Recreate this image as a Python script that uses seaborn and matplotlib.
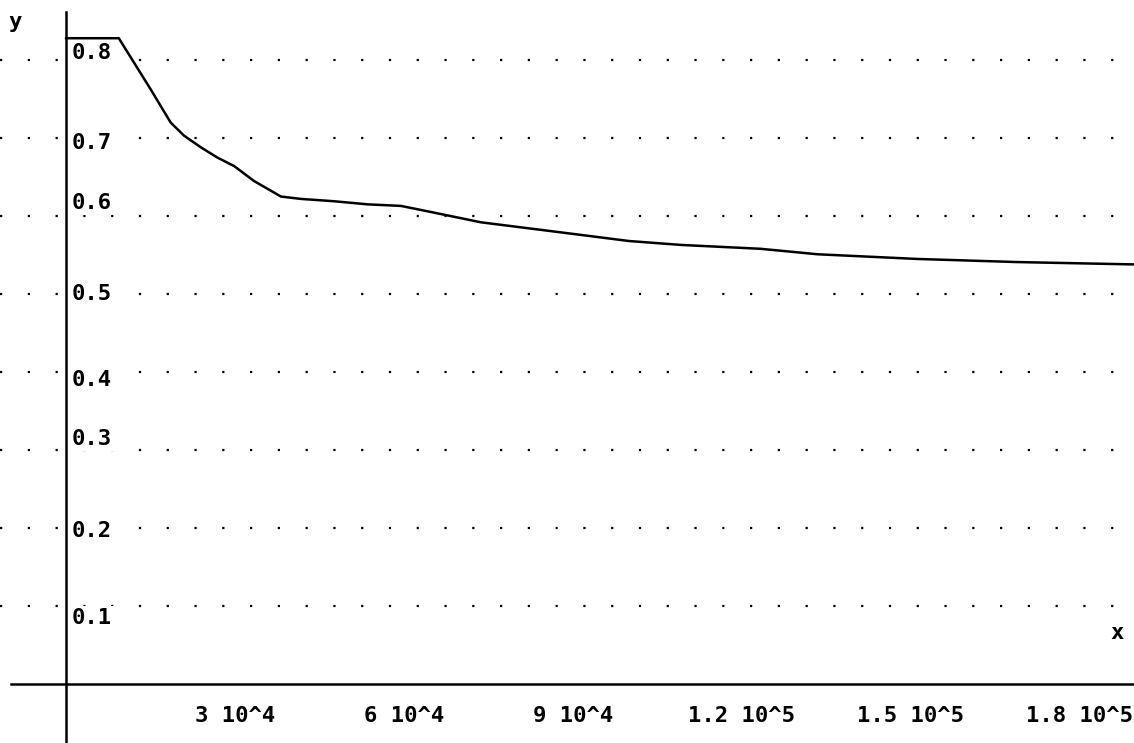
import numpy as np
import pandas as pd
import matplotlib
matplotlib.use("Agg")
import matplotlib.pyplot as plt
from matplotlib.transforms import offset_copy
import seaborn as sns

# ------------------------------
# data
# ------------------------------
x_vals = [0, 9400, 15100, 18600, 21000, 24000, 26900, 29900, 33400,
          38200, 41700, 47600, 53600, 59500, 64300, 73700, 88000, 100000,
          109200, 123400, 133500, 151200, 169000, 189700]
y_vals = [0.828, 0.828, 0.762, 0.720, 0.703, 0.688, 0.675, 0.664, 0.645,
          0.625, 0.622, 0.619, 0.615, 0.613, 0.606, 0.592, 0.579, 0.568,
          0.563, 0.558, 0.551, 0.545, 0.541, 0.538]

y_ticks = [0.1, 0.2, 0.3, 0.4, 0.5, 0.6, 0.7, 0.8]
y_tick_labels = ["0.1", "0.2", "0.3", "0.4", "0.5", "0.6", "0.7", "0.8"]
x_ticks = [30000, 60000, 90000, 120000, 150000, 180000]
x_tick_labels = ["3 10^4", "6 10^4", "9 10^4", "1.2 10^5", "1.5 10^5", "1.8 10^5"]

df = pd.DataFrame({"x": x_vals, "y": y_vals})

# ------------------------------
# figure setup
# ------------------------------
sns.set_style("white")
plt.rcParams["font.family"] = ["DejaVu Sans Mono"]
mono = dict(family="DejaVu Sans Mono", weight="bold", size=16, color="black")

fig = plt.figure(figsize=(11.34, 7.43), dpi=100)
ax = fig.add_axes([0, 0, 1, 1])
ax.set_xlim(-11700, 189700)
ax.set_ylim(-0.0756, 0.877)

# dotted grid rows (dots every ~28 px)
for yv in y_ticks:
    ax.axhline(yv, color="black", lw=1.6, ls=(0, (1, 11.5)), zorder=1)

sns.lineplot(data=df, x="x", y="y", ax=ax, color="black", lw=1.8, zorder=3)

# axes through the origin
for side in ["top", "right"]:
    ax.spines[side].set_visible(False)
ax.spines["left"].set_position(("data", 0))
ax.spines["bottom"].set_position(("data", 0))
ax.spines["left"].set_bounds(-0.0756, 0.862)
ax.spines["bottom"].set_bounds(-9760, 189700)
for side in ["left", "bottom"]:
    ax.spines[side].set_linewidth(1.8)
    ax.spines[side].set_color("black")

ax.set_xticks(x_ticks)
ax.set_xticklabels(x_tick_labels, **mono)
ax.set_xticks(np.arange(-5000, 190000, 5000), minor=True)
ax.tick_params(axis="x", which="major", direction="inout", length=4, width=1.5, pad=14)
ax.tick_params(axis="x", which="minor", direction="inout", length=3, width=1.5)

ax.set_yticks(y_ticks)
ax.set_yticklabels([])
ax.tick_params(axis="y", direction="inout", length=7, width=1.5)

# y labels sit inside the plot, nudged like the original plotter did
nudge_px = [12, 3, -11, 8, 0, -13, 5, -7]
for yv, lab, dy in zip(y_ticks, y_tick_labels, nudge_px):
    tr = offset_copy(ax.transData, fig=fig, x=6, y=-dy, units="dots")
    ax.text(0, yv, lab, transform=tr, ha="left", va="center", zorder=4,
            bbox=dict(facecolor="white", edgecolor="none", pad=1.5), **mono)

ax.set_xlabel("")
ax.set_ylabel("")
fig.text(15 / 1134, 1 - 22 / 743, "y", ha="center", va="center", **mono)
fig.text(1117 / 1134, 1 - 633 / 743, "x", ha="center", va="center", **mono)

fig.savefig("out.png", dpi=100, facecolor="white")
